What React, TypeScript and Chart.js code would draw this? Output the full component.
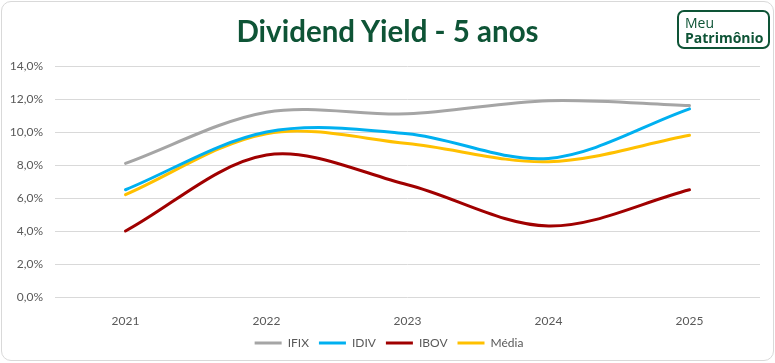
import React, { useEffect, useRef } from "react";
import { Chart, registerables } from "chart.js";

Chart.register(...registerables);

const categories = ["2021", "2022", "2023", "2024", "2025"];
const ifix = [8.1, 11.2, 11.1, 11.9, 11.6];
const idiv = [6.5, 10.0, 9.9, 8.4, 11.4];
const ibov = [4.0, 8.6, 6.8, 4.3, 6.5];
const media = [6.2, 9.9, 9.3, 8.2, 9.8];
const seriesNames = ["IFIX", "IDIV", "IBOV", "Média"];
const yMin = 0;
const yMax = 14;
const yStep = 2;

const GREEN = "#0e5436";

const legendShift = {
  id: "legendShift",
  afterLayout(chart: any) {
    const lg = chart.legend;
    if (lg) {
      lg.left += 9;
      lg.right += 9;
    }
  },
};

export default function App() {
  const canvasRef = useRef<HTMLCanvasElement | null>(null);

  useEffect(() => {
    document.body.style.margin = "0";
    const canvas = canvasRef.current;
    if (!canvas) return;
    const colors = ["#a5a5a5", "#00b0f0", "#a00000", "#ffc000"];
    const values = [ifix, idiv, ibov, media];
    const chart = new Chart(canvas, {
      type: "line",
      data: {
        labels: categories,
        datasets: values.map((v, i) => ({
          label: seriesNames[i],
          data: v,
          borderColor: colors[i],
          backgroundColor: colors[i],
          borderWidth: 3,
          pointRadius: 0,
          tension: 0.33,
          fill: false,
          borderCapStyle: "round" as const,
        })),
      },
      plugins: [legendShift],
      options: {
        responsive: false,
        animation: false,
        layout: { padding: { top: 66, right: 15, left: 0, bottom: 4 } },
        scales: {
          x: {
            offset: true,
            grid: { display: false },
            border: { display: false },
            ticks: {
              color: "#595959",
              font: { family: "Lato", size: 12 },
              padding: 9,
              maxRotation: 0,
            },
            afterFit: (s: any) => {
              s.height = 30;
            },
          },
          y: {
            min: yMin,
            max: yMax,
            ticks: {
              stepSize: yStep,
              color: "#595959",
              font: { family: "Lato", size: 12 },
              padding: 12,
              callback: (v: any) => Number(v).toFixed(1).replace(".", ",") + "%",
            },
            grid: { color: "#d9d9d9", drawTicks: false, lineWidth: 1 },
            border: { display: false },
            afterFit: (s: any) => {
              s.width = 55;
            },
          },
        },
        plugins: {
          title: { display: false },
          tooltip: { enabled: false },
          legend: {
            position: "bottom",
            labels: {
              boxWidth: 27,
              boxHeight: 3,
              padding: 10,
              color: "#595959",
              font: { family: "Lato", size: 12 },
              generateLabels: (c: any) =>
                Chart.defaults.plugins.legend.labels
                  .generateLabels(c)
                  .map((l: any) => ({ ...l, lineWidth: 0, fillStyle: l.strokeStyle })),
            },
          },
        },
      },
    });
    return () => chart.destroy();
  }, []);

  return (
    <div style={{ position: "relative", width: 775, height: 363, background: "#fff", overflow: "hidden" }}>
      <div
        style={{
          position: "absolute",
          left: 1,
          top: 1,
          width: 773,
          height: 360,
          boxSizing: "border-box",
          border: "1px solid #d9d9d9",
          borderRadius: 10,
        }}
      />
      <canvas ref={canvasRef} width={775} height={363} style={{ position: "absolute", left: 0, top: 0 }} />
      <div
        style={{
          position: "absolute",
          left: 0,
          top: 16,
          width: 775,
          textAlign: "center",
          fontFamily: "Lato",
          fontWeight: 700,
          fontSize: 29.5,
          lineHeight: "30px",
          color: GREEN,
        }}
      >
        Dividend Yield - 5 anos
      </div>
      <div
        style={{
          position: "absolute",
          left: 677,
          top: 10,
          width: 93,
          height: 39,
          boxSizing: "border-box",
          border: `2px solid ${GREEN}`,
          borderRadius: 7,
          color: GREEN,
          fontFamily: "Open Sans",
          paddingLeft: 6,
        }}
      >
        <div style={{ fontSize: 14, lineHeight: "14px", marginTop: 4 }}>Meu</div>
        <div style={{ fontSize: 14, lineHeight: "16px", fontWeight: 700 }}>Patrimônio</div>
      </div>
    </div>
  );
}
